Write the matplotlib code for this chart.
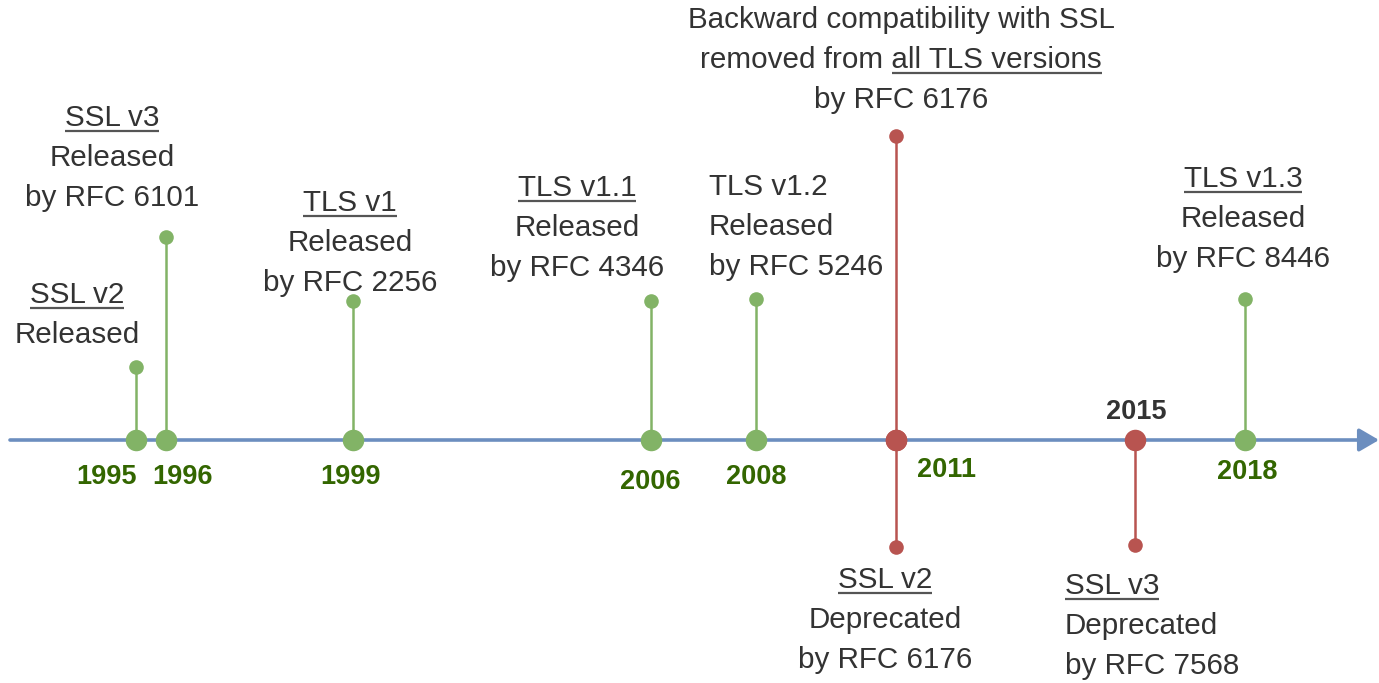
import matplotlib
matplotlib.use("Agg")
import matplotlib.pyplot as plt

plt.rcParams['font.family'] = ['Liberation Sans', 'DejaVu Sans']

# events on the timeline
years = [1995, 1996, 1999, 2006, 2008, 2011, 2011, 2015, 2018]
timeline_pos = [136, 166, 353, 651, 756, 896, 896, 1135, 1245]
stem_height = [73, 203, 139, 139, 141, 304, -107, -105, 141]
kinds = ['rel', 'rel', 'rel', 'rel', 'rel', 'dep', 'dep', 'dep', 'rel']
# each line: (plain prefix, underlined part, plain suffix)
labels = [
    [('', 'SSL v2', ''), ('Released', '', '')],
    [('', 'SSL v3', ''), ('Released', '', ''), ('by RFC 6101', '', '')],
    [('', 'TLS v1', ''), ('Released', '', ''), ('by RFC 2256', '', '')],
    [('', 'TLS v1.1', ''), ('Released', '', ''), ('by RFC 4346', '', '')],
    [('TLS v1.2', '', ''), ('Released', '', ''), ('by RFC 5246', '', '')],
    [('Backward compatibility with SSL', '', ''),
     ('removed from ', 'all TLS versions', ''),
     ('by RFC 6176', '', '')],
    [('', 'SSL v2', ''), ('Deprecated', '', ''), ('by RFC 6176', '', '')],
    [('', 'SSL v3', ''), ('Deprecated', '', ''), ('by RFC 7568', '', '')],
    [('', 'TLS v1.3', ''), ('Released', '', ''), ('by RFC 8446', '', '')],
]

# label layout (x, y of first line, alignment)
label_xy = [(77, 145), (112, 322), (350, 237), (577, 252), (709, 253),
            (901, 420), (885, -140), (1065, -146), (1243, 261)]
label_ha = ['center', 'center', 'center', 'center', 'left',
            'center', 'center', 'left', 'center']
year_xy = [(106, -37), (183, -37), (351, -37), (650, -42), (756, -37),
           (946, -30), None, (1136, 28), (1247, -32)]

colors = {'rel': '#82b366', 'dep': '#b85450'}
text_col = '#333333'
fs = 21.3

fig = plt.figure(figsize=(13.79, 6.83), dpi=100)
ax = fig.add_axes([0, 0, 1, 1])
ax.set_xlim(0, 1379)
ax.set_ylim(-243, 440)
ax.axis('off')
renderer = fig.canvas.get_renderer()

# main axis
ax.annotate('', xy=(1379, 0), xytext=(10, 0),
            arrowprops=dict(arrowstyle='-|>,head_length=1.2,head_width=0.7',
                            color='#6c8ebf', lw=2.6, shrinkA=0, shrinkB=0))


def width_of(s):
    if not s:
        return 0.0
    t = ax.text(0, 0, s, fontsize=fs)
    w = t.get_window_extent(renderer).width
    t.remove()
    return w


for i in range(len(years)):
    c = colors[kinds[i]]
    x = timeline_pos[i]
    ax.plot([x, x], [0, stem_height[i]], color=c, lw=1.8, zorder=2)
    ax.plot(x, stem_height[i], 'o', color=c, ms=10.5, mec='none', zorder=3)
    ax.plot(x, 0, 'o', color=c, ms=15.5, mec='none', zorder=4)

    lx, ly = label_xy[i]
    for k, (pre, und, suf) in enumerate(labels[i]):
        y = ly - k * 40
        t = ax.text(lx, y, pre + und + suf, ha=label_ha[i], va='center',
                    fontsize=fs, color=text_col)
        if und:
            bb = t.get_window_extent(renderer)
            x0 = bb.x0 + width_of(pre)
            x1 = x0 + width_of(und)
            uy = y - 13
            ax.plot([x0, x1], [uy, uy], color='#555555', lw=1.6,
                    solid_capstyle='butt')

    if year_xy[i] is not None:
        yx, yy = year_xy[i]
        col = '#333333' if years[i] == 2015 else '#336600'
        ax.text(yx, yy, str(years[i]), ha='center', va='center',
                fontsize=19.5, fontweight='bold', color=col)

fig.savefig('out.png', dpi=100)
